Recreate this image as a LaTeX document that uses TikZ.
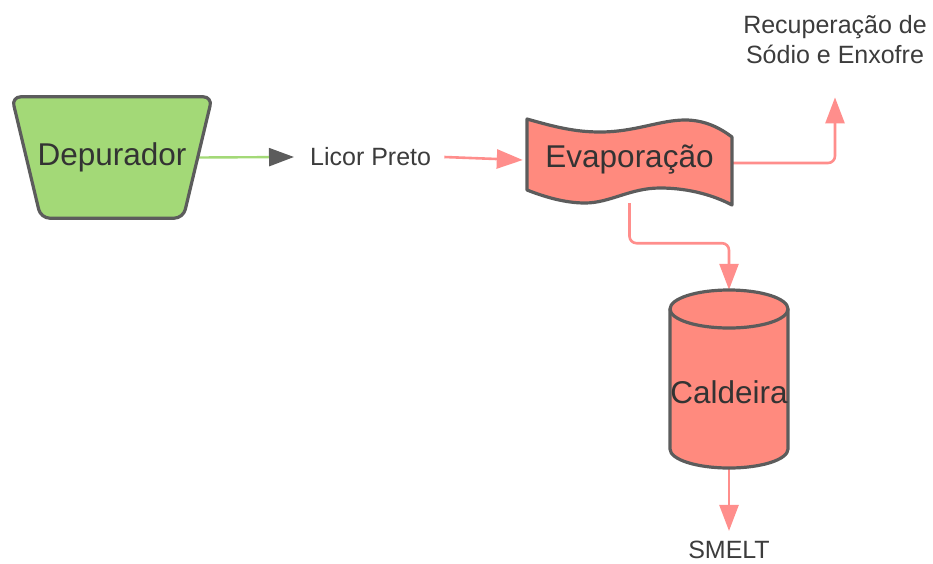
\documentclass[tikz,border=0pt]{standalone}
\usepackage{fontspec}
\setmainfont{Liberation Sans}
\usetikzlibrary{arrows.meta,calc}

\definecolor{leaf}{HTML}{A3D977}
\definecolor{salmon}{HTML}{FF8A7E}
\definecolor{salmonline}{HTML}{FF8E8C}
\definecolor{outline}{HTML}{5C5C5C}
\definecolor{ink}{HTML}{333333}
\definecolor{labelink}{HTML}{3C3C3C}

\pgfdeclarelayer{edges}
\pgfdeclarelayer{shapes}
\pgfsetlayers{edges,shapes,main}

\tikzset{
  shapetext/.style={font=\fontsize{31.5}{36}\selectfont, text=ink, inner sep=0pt},
  labeltext/.style={font=\fontsize{25}{30}\selectfont, text=labelink, inner sep=0pt, align=center},
  shapeline/.style={draw=outline, line width=3.2pt, line join=round},
  flow/.style={draw=salmonline, line width=2.6pt, rounded corners=7pt,
    -{Triangle[length=26pt,width=19pt,color=salmonline]}},
  greenflow/.style={draw=leaf, line width=2.4pt,
    -{Triangle[length=25pt,width=18pt,color=outline]}},
}

\begin{document}
\begin{tikzpicture}[x=1pt,y=-1pt]
\useasboundingbox (0,0) rectangle (933,563);

% process nodes (text); outlines are drawn on the shapes layer
\node[shapetext, minimum width=200pt, minimum height=121pt] (dep) at (112,157.5) {Depurador};
\node[shapetext, minimum width=205pt, minimum height=86pt] (evap) at (629.5,160) {Evaporação};
% boiler label sits a little below the body's middle
\node[shapetext, minimum width=118pt, minimum height=178pt] (cal) at (729,392) {Caldeira};

% free labels
\node[labeltext, anchor=west] (licor) at (310,157) {Licor Preto};
\node[labeltext] (recup) at (835,40) {Recuperação de\\Sódio e Enxofre};
\node[labeltext] (smelt) at (729,550) {SMELT};

\begin{pgfonlayer}{shapes}
  % scrubber: inverted trapezoid
  \draw[shapeline, fill=leaf, rounded corners=9pt]
    (dep.north west) -- (dep.north east)
    -- ([xshift=-29pt]dep.south east) -- ([xshift=29pt]dep.south west) -- cycle;
  % evaporator: wavy tape
  \draw[shapeline, fill=salmon]
    (527,119) .. controls (555,127) and (575,132) .. (600,132)
    .. controls (635,132) and (660,120) .. (685,120)
    .. controls (705,120) and (720,128) .. (732,137)
    -- (732,205)
    .. controls (715,196) and (690,188) .. (660,188)
    .. controls (630,188) and (610,203) .. (585,203)
    .. controls (565,203) and (545,197) .. (527,190) -- cycle;
  % boiler: cylinder
  \draw[shapeline, fill=salmon]
    (670,309) -- (670,449) arc[start angle=180, end angle=360, x radius=59, y radius=-19]
    -- (788,309) arc[start angle=0, end angle=180, x radius=59, y radius=-19] -- cycle;
  \draw[shapeline] (670,309) arc[start angle=180, end angle=360, x radius=59, y radius=-19];
\end{pgfonlayer}

\begin{pgfonlayer}{edges}
  \draw[greenflow] ([xshift=-14pt]dep.east) -- ([xshift=-16pt]licor.west);
  \draw[flow] ([xshift=13pt]licor.east) -- ([xshift=-4pt]evap.west);
  \draw[flow] ([yshift=-3pt]evap.east) -| ([yshift=-33pt]recup.south);
  \draw[flow] (evap.south) -- ++(0,40) -| ([yshift=13pt]cal.north);
  \draw[flow] ([yshift=13pt]cal.south) -- ([yshift=10pt]smelt.north);
\end{pgfonlayer}
\end{tikzpicture}
\end{document}
